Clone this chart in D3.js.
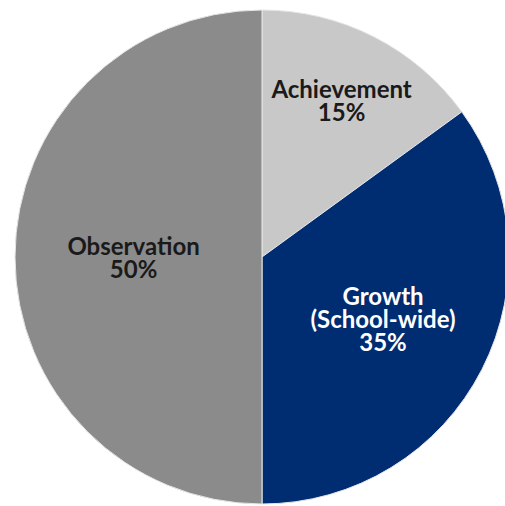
<!DOCTYPE html>
<html>
<head>
<meta charset="utf-8">
<script src="https://cdn.jsdelivr.net/npm/d3@7"></script>
<style>
  html, body { margin: 0; padding: 0; background: #fff; }
  svg { display: block; }
</style>
</head>
<body>
<div id="chart"></div>
<script>
// Donnees du graphique
const categories = ["Achievement", "Growth (School-wide)", "Observation"];
const labelLines = [["Achievement"], ["Growth", "(School-wide)"], ["Observation"]];
const values = [15, 35, 50];
const colors = ["#c8c8c8", "#002d72", "#8b8b8b"];
const textColors = ["#1a1a1a", "#ffffff", "#1a1a1a"];

const width = 505, height = 506;
const cx = 262, cy = 257, radius = 247;

const svg = d3.select("#chart").append("svg")
    .attr("width", width)
    .attr("height", height);

const g = svg.append("g").attr("transform", `translate(${cx},${cy})`);

const pie = d3.pie().sort(null).value(d => d.value);
const arcs = pie(categories.map((c, i) => ({ name: c, value: values[i], i })));

const arc = d3.arc().innerRadius(0).outerRadius(radius);

g.selectAll("path")
    .data(arcs)
    .join("path")
    .attr("d", arc)
    .attr("fill", d => colors[d.data.i])
    .attr("stroke", "#e6e6e6")
    .attr("stroke-width", 1);

// rayon des etiquettes (fraction du rayon) par part
const labelR = [0.71, 0.55, 0.52];
const lineH = 23;

arcs.forEach(d => {
    const i = d.data.i;
    const r = radius * labelR[i];
    const c = d3.arc().innerRadius(r).outerRadius(r).centroid(d);
    const lines = labelLines[i].concat([values[i] + "%"]);
    const t = g.append("text")
        .attr("text-anchor", "middle")
        .attr("font-family", "Lato, 'Open Sans', sans-serif")
        .attr("font-weight", "bold")
        .attr("font-size", "24px")
        .attr("fill", textColors[i]);
    lines.forEach((ln, k) => {
        t.append("tspan")
            .attr("x", c[0])
            .attr("y", c[1] + (k - (lines.length - 1) / 2) * lineH + 9)
            .text(ln);
    });
});
</script>
</body>
</html>
